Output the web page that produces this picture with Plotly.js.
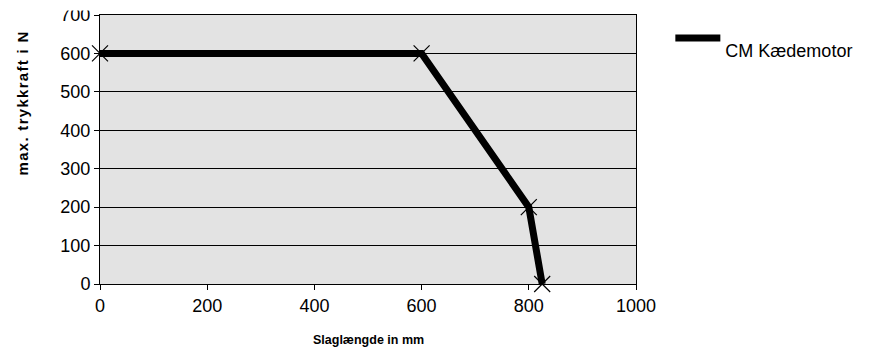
<!DOCTYPE html>
<html>
<head>
<meta charset="utf-8">
<script src="https://cdn.plot.ly/plotly-3.0.1.min.js"></script>
<style>html,body{margin:0;padding:0;background:#fff;}#chart{width:869px;height:353px;}</style>
</head>
<body>
<div id="chart"></div>
<script>
const seriesName = "CM Kædemotor";
const strokeMm = [0, 600, 800, 825];
const forceN = [600, 600, 200, 0];
const xTickVals = [0, 200, 400, 600, 800, 1000];
const yTickVals = [0, 100, 200, 300, 400, 500, 600, 700];
const xTitle = "Slaglængde in mm";
const yTitle = "max. trykkraft i N";

const font = "Liberation Sans, Arial, sans-serif";

const data = [{
  x: strokeMm, y: forceN, type: "scatter", mode: "lines+markers", name: seriesName,
  line: {color: "#000", width: 7},
  marker: {symbol: "x-thin-open", size: 16, color: "#000", line: {color: "#000", width: 1.2}},
  cliponaxis: false, showlegend: false
}, {
  x: [null], y: [null], type: "scatter", mode: "lines", name: "\u00a0<br>" + seriesName,
  line: {color: "#000", width: 7}, showlegend: true
}];

const layout = {
  width: 869, height: 353,
  margin: {l: 100, r: 233, t: 15, b: 69},
  paper_bgcolor: "#fff", plot_bgcolor: "#e3e3e3",
  font: {family: font, size: 18, color: "#000"},
  showlegend: true,
  legend: {xref: "container", yref: "container", x: 0.7714, y: 0.8924, xanchor: "left", yanchor: "middle",
           valign: "middle", itemwidth: 45, font: {size: 18, family: font}, bgcolor: "rgba(0,0,0,0)"},
  xaxis: {
    range: [0, 1000], tickvals: xTickVals, ticks: "outside", ticklen: 5, tickcolor: "#000",
    showgrid: false, zeroline: false, showline: true, linecolor: "#000", linewidth: 1, mirror: true,
    tickfont: {size: 18, family: font}, fixedrange: true, automargin: false
  },
  yaxis: {
    range: [0, 700], tickvals: yTickVals, ticks: "outside", ticklen: 5, tickcolor: "#000",
    showgrid: true, gridcolor: "#000", gridwidth: 1, zeroline: false, showline: true, linecolor: "#000",
    linewidth: 1, mirror: true, tickfont: {size: 18, family: font}, fixedrange: true, automargin: false
  },
  shapes: [
    {type: "rect", xref: "paper", yref: "paper", x0: -0.1, x1: -0.003, y0: 1.0167, y1: 1.06,
     fillcolor: "#fff", line: {width: 0}, layer: "above"}
  ],
  annotations: [
    {text: "<b><span style='letter-spacing:1.3px'>" + yTitle + "</span></b>", xref: "paper", yref: "paper",
     x: -0.145, y: 0.672, textangle: -90, showarrow: false, font: {size: 15, family: font},
     xanchor: "center", yanchor: "middle"},
    {text: "<b>" + xTitle + "</b>", xref: "paper", yref: "paper", x: 0.5, y: -0.21,
     showarrow: false, font: {size: 12.5, family: font}, xanchor: "center", yanchor: "middle"}
  ]
};

Plotly.newPlot("chart", data, layout, {staticPlot: true, displayModeBar: false});
</script>
</body>
</html>
